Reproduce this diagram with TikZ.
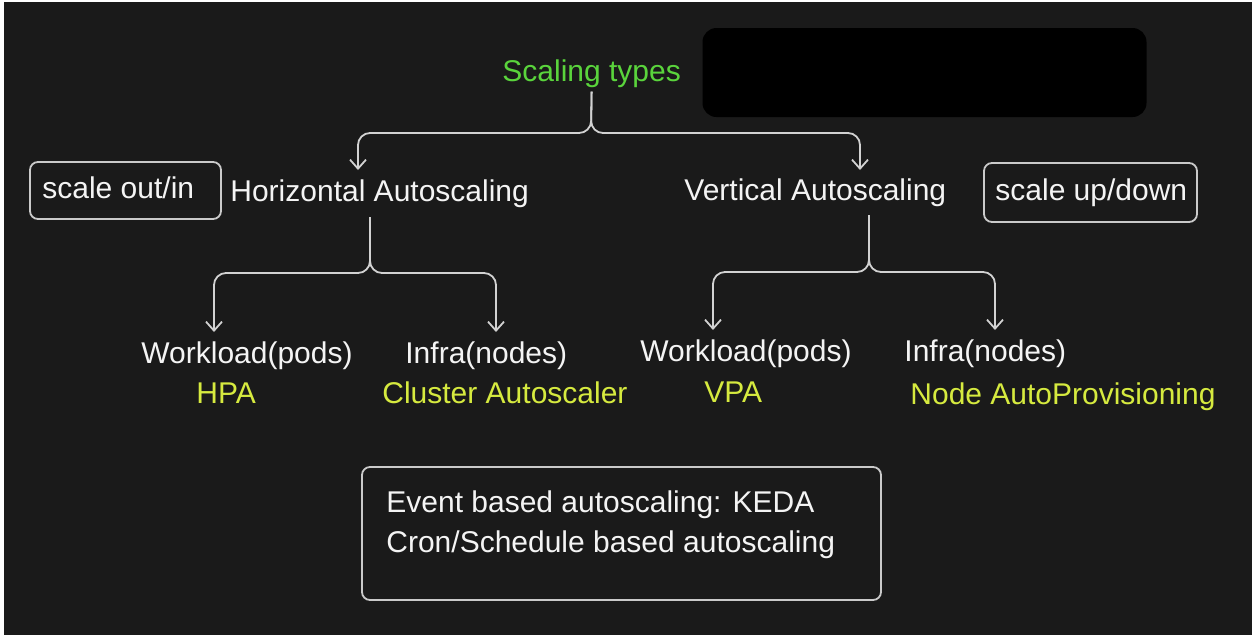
\documentclass[tikz,border=0pt]{standalone}
\usepackage{fontspec}
\setmainfont{Liberation Sans}
\usetikzlibrary{arrows.meta}
\definecolor{bg}{HTML}{1A1A1A}
\definecolor{lineg}{HTML}{D2D2D2}
\definecolor{boxg}{HTML}{CACACA}
\definecolor{greent}{HTML}{5AD43C}
\definecolor{yellowt}{HTML}{D6EA3F}
\definecolor{whitet}{HTML}{F4F4F4}
\begin{document}
\begin{tikzpicture}[x=0.5pt,y=-0.5pt,
  txt/.style={inner sep=0pt,anchor=base west,font=\fontsize{15pt}{18pt}\selectfont,text=whitet},
  conn/.style={draw=lineg,line width=0.9pt,rounded corners=6pt,-{Straight Barb[length=4.5pt,width=8pt]}},
  sbox/.style={draw=boxg,line width=0.9pt,rounded corners=4pt,inner sep=0pt}]
\useasboundingbox (0,0) rectangle (1252,638);
\fill[white] (0,0) rectangle (1252,638);
\fill[bg] (4,1.5) rectangle (1252,635);

% boxes
\node[fill=black,rounded corners=7pt,minimum width=222pt,minimum height=44.5pt,inner sep=0pt] (blk) at (924.5,72.5) {};
\node[sbox,minimum width=95.5pt,minimum height=28.5pt] (outbox) at (125.5,190.5) {};
\node[sbox,minimum width=106.5pt,minimum height=29.5pt] (upbox) at (1090.5,192.5) {};
\node[sbox,minimum width=259.5pt,minimum height=66.5pt] (evbox) at (621.5,533.5) {};

% texts
\node[txt,text=greent] (types) at (502,81) {Scaling types};
\node[txt] (hz) at (230,201) {Horizontal Autoscaling};
\node[txt] (vt) at (684,200) {Vertical Autoscaling};
\node[txt] (outt) at (42,198) {scale out/in};
\node[txt] (upt) at (995,200) {scale up/down};
\node[txt] (wl1) at (141,363) {Workload(pods)};
\node[txt] (in1) at (405,363) {Infra(nodes)};
\node[txt,text=yellowt] (hpa) at (196,403) {HPA};
\node[txt,text=yellowt] (ca) at (382,403) {Cluster Autoscaler};
\node[txt] (wl2) at (640,361) {Workload(pods)};
\node[txt] (in2) at (904,361) {Infra(nodes)};
\node[txt,text=yellowt] (vpa) at (704,402) {VPA};
\node[txt,text=yellowt] (nap) at (910,404) {Node AutoProvisioning};
\node[txt] (ev1) at (386,512) {Event based autoscaling: KEDA};
\node[txt] (ev2) at (386,552) {Cron/Schedule based autoscaling};

% connector coordinates
\coordinate (bT) at (591,133);
\coordinate (tL) at (358,170);
\coordinate (tR) at (860,170);
\coordinate (sH) at (370,217);
\coordinate (bH) at (370,273);
\coordinate (tHL) at (214,332);
\coordinate (tHR) at (496,332);
\coordinate (sV) at (869,215);
\coordinate (bV) at (869,272);
\coordinate (tVL) at (713,330);
\coordinate (tVR) at (995,330);

% connectors
\draw[conn] ([yshift=-2pt]types.south) -- (bT) -| (tL);
\draw[conn] ([yshift=-2pt]types.south) -- (bT) -| (tR);
\draw[conn] (sH) -- (bH) -| (tHL);
\draw[conn] (sH) -- (bH) -| (tHR);
\draw[conn] (sV) -- (bV) -| (tVL);
\draw[conn] (sV) -- (bV) -| (tVR);
\end{tikzpicture}
\end{document}
